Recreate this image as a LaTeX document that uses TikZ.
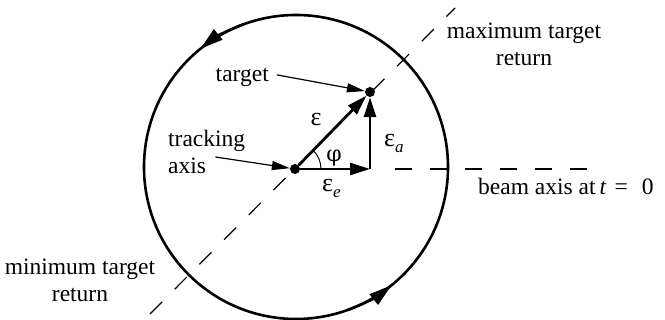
\documentclass[tikz,border=0pt]{standalone}
\usepackage{fontspec}
\setmainfont{Liberation Serif}
\newfontfamily\grkfont{DejaVu Serif}
\usetikzlibrary{arrows.meta,calc}
\begin{document}
\begin{tikzpicture}[x=1pt,y=1pt,
  lbltext/.style={font=\fontsize{23.5}{27}\selectfont, inner sep=0pt},
  greek/.style={font=\fontsize{26}{27}\selectfont, inner sep=0pt},
  dot/.style={circle, fill=black, inner sep=0pt, minimum size=10pt},
  vec/.style={line width=2.8pt, -{Triangle[length=20pt,width=12pt]}},
  lblarrow/.style={line width=1.2pt, -{Triangle[length=18pt,width=9pt]}},
  dashline/.style={line width=1.2pt, dash pattern=on 17pt off 18pt},
  ring/.style={line width=2.6pt},
  ringarrow/.style={line width=2.6pt, -{Triangle[length=23pt,width=13pt]}}]
\useasboundingbox (0,0) rectangle (665,320);
% centres
\coordinate (C) at (296,153);
\node[dot] (T) at (295,151) {};
\node[dot] (P) at (370,228) {};
\coordinate (F) at (370,151);
% dashed axes
\coordinate (dlo) at (150,6);
\coordinate (dhi) at (455,312);
\draw[dashline] (dlo) -- (dhi);
\coordinate (hstart) at (395,151);
\coordinate (hend) at (590,151);
\draw[dashline] (hstart) -- (hend);
% circle and its arrows
\draw[ring] (C) circle[radius=152];
\draw[ringarrow] (C) ++(110:152) arc[start angle=110, end angle=129, radius=152];
\draw[ringarrow] (C) ++(-70:152) arc[start angle=-70, end angle=-51, radius=152];
% vectors
\draw[vec] (T) -- (P);
\draw[vec] (T) -- (F);
\draw[vec] (F) -- (P);
\draw[line width=1pt] (T.center) ++(26,0) arc[start angle=0, end angle=46, radius=26];
% labels
\node[lbltext, anchor=base east] (tgt) at (269,238) {target};
\draw[lblarrow] ([xshift=8pt,yshift=3pt]tgt.east) -- (P);
\node[lbltext, align=left, anchor=west] (trk) at (168,168) {tracking\\axis};
\draw[lblarrow] ([xshift=-30pt,yshift=-5pt]trk.east) -- (T);
\node[lbltext, align=center] (maxr) at (524,276) {maximum target\\return};
\node[lbltext, align=center] (minr) at (80,40) {minimum target\\return};
\node[lbltext, anchor=base west] (beam) at (478,125) {beam axis at\,\textit{t}\hspace{8pt}=\hspace{14pt}0};
\node[greek] (eps) at (316,200) {ε};
\node[greek] (phi) at (334,162) {\grkfont\fontsize{22}{24}\selectfont φ};
\node[greek, anchor=west] (epsa) at (384,177) {ε\raisebox{-6pt}{\fontsize{17}{17}\selectfont\itshape a}};
\node[greek, anchor=west] (epse) at (322,132) {ε\raisebox{-6pt}{\fontsize{17}{17}\selectfont\itshape e}};
\end{tikzpicture}
\end{document}
